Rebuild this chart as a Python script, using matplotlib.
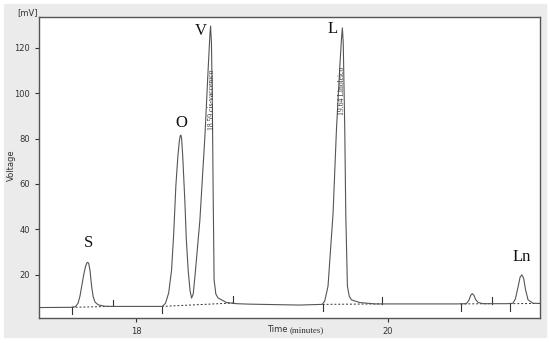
import matplotlib
matplotlib.use("Agg")
import matplotlib.pyplot as plt
from matplotlib.patches import Rectangle

# chromatogram trace (time in minutes, signal in mV)
trace_t = [17.23, 17.49, 17.52, 17.54, 17.555, 17.569, 17.585, 17.60, 17.61, 17.617,
           17.625, 17.635, 17.648, 17.66, 17.675, 17.70, 17.75, 17.82, 18.21, 18.235,
           18.26, 18.283, 18.30, 18.317, 18.333, 18.345, 18.352, 18.357, 18.363, 18.372,
           18.389, 18.40, 18.415, 18.43, 18.442, 18.455, 18.47, 18.508, 18.548, 18.575,
           18.588, 18.593, 18.60, 18.607, 18.613, 18.621, 18.635, 18.653, 18.72, 18.80,
           18.90, 19.10, 19.30, 19.48, 19.50, 19.526, 19.566, 19.593, 19.62, 19.633,
           19.64, 19.647, 19.659, 19.667, 19.68, 19.695, 19.712, 19.778, 19.90, 20.20,
           20.55, 20.625, 20.645, 20.66, 20.672, 20.685, 20.70, 20.72, 20.757, 20.95,
           20.995, 21.015, 21.035, 21.052, 21.066, 21.08, 21.095, 21.115, 21.154, 21.21]
trace_mv = [5.6, 5.7, 6.0, 7.5, 10.5, 14.9, 20.0, 23.8, 25.2, 25.5,
            25.0, 22.0, 15.0, 10.5, 8.0, 6.8, 6.2, 6.1, 6.1, 7.5,
            12.0, 22.0, 38.0, 59.0, 72.0, 79.0, 81.2, 81.5, 80.0, 72.0,
            52.0, 36.0, 22.0, 13.0, 9.8, 11.5, 20.0, 44.0, 81.0, 112.0,
            126.0, 129.5, 122.0, 95.0, 59.0, 17.8, 11.5, 9.8, 7.8, 7.3,
            7.1, 6.9, 6.7, 7.0, 8.5, 15.0, 47.0, 84.0, 112.0, 124.0,
            128.7, 122.0, 84.0, 47.0, 15.0, 10.5, 9.0, 7.8, 7.2, 7.2,
            7.2, 7.3, 8.8, 11.0, 11.7, 11.0, 9.0, 7.8, 7.3, 7.3,
            7.5, 9.5, 14.5, 19.0, 20.0, 18.5, 13.5, 9.0, 7.5, 7.4]

# integration baselines (start, end)
base_t0 = [17.49, 18.206, 19.484, 20.579, 20.968]
base_v0 = [5.7, 6.1, 7.0, 7.2, 7.3]
base_t1 = [17.817, 18.77, 19.952, 20.825, 21.21]
base_v1 = [6.1, 7.6, 7.2, 7.3, 7.4]

# peak names
peak_names = ["S", "O", "V", "L", "Ln"]
peak_t = [17.62, 18.357, 18.516, 19.563, 21.063]
peak_v = [34.0, 87.0, 127.5, 128.0, 28.0]

# retention time labels
rt_text = ["18.59 cis-vaccenico", "19.64 Linoleico"]
rt_t = [18.607, 19.635]
rt_v = [97.0, 101.0]

gray = "#555555"

fig = plt.figure(figsize=(5.5, 3.43), dpi=100)
fig.patches.append(Rectangle((4 / 550, 1 - 337 / 343), 542 / 550, 333 / 343,
                             transform=fig.transFigure, color="#ebebeb", zorder=-10))
ax = fig.add_axes([39 / 550, 1 - 318 / 343, 501 / 550, 301 / 343])
ax.set_facecolor("white")

ax.plot(trace_t, trace_mv, color=gray, lw=0.8, zorder=3)

for t0, v0, t1, v1 in zip(base_t0, base_v0, base_t1, base_v1):
    ax.plot([t0, t1], [v0, v1], color="#333333", lw=0.7, ls=(0, (2, 2)), zorder=2)
    ax.plot([t0, t0], [v0, v0 - 3.0], color="#333333", lw=0.8)
    if t1 < 21.2:
        ax.plot([t1, t1], [v1, v1 + 3.0], color="#333333", lw=0.8)

for name, t, v in zip(peak_names, peak_t, peak_v):
    ax.text(t, v, name, family="Liberation Serif", fontsize=12,
            ha="center", va="center", color="#111111")

for s, t, v in zip(rt_text, rt_t, rt_v):
    ax.text(t, v, s, family="Liberation Serif", fontsize=5.5, rotation=90,
            ha="center", va="center", color="#333333")

ax.set_xlim(17.23, 21.21)
ax.set_ylim(1.0, 133.5)
ax.set_xticks([18, 20])
ax.set_yticks([20, 40, 60, 80, 100, 120])
ax.tick_params(labelsize=6, colors="#333333", length=3, width=0.8)
for sp in ax.spines.values():
    sp.set_color(gray)
    sp.set_linewidth(1.0)

fig.text(27 / 550, 1 - 13 / 343, "[mV]", fontsize=6, ha="center", va="center", color="#333333")
fig.text(11 / 550, 1 - 165 / 343, "Voltage", fontsize=6, rotation=90,
         ha="center", va="center", color="#333333")
fig.text(290 / 550, 1 - 330 / 343, "Time ", fontsize=6, ha="right", va="center", color="#333333")
fig.text(290 / 550, 1 - 330 / 343, "(minutes)", family="Liberation Serif", fontsize=6.5,
         ha="left", va="center", color="#333333")

fig.savefig("out.png", dpi=100)
